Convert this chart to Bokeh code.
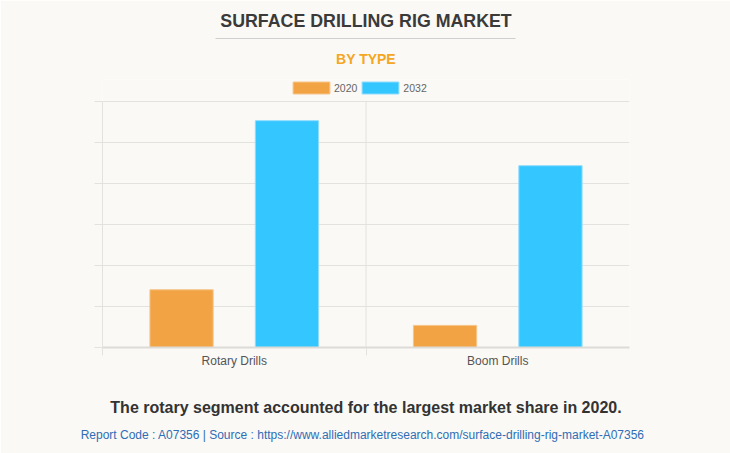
from bokeh.plotting import figure
from bokeh.models import (Range1d, FixedTicker, LinearAxis, Title, Legend, LegendItem,
                          ColumnDataSource)
from bokeh.transform import dodge
from bokeh.embed import file_html
from bokeh.resources import INLINE

# ---- data ----
categories = ["Rotary Drills", "Boom Drills"]
series_names = ["2020", "2032"]
values_2020 = [1.41, 0.54]
values_2032 = [5.54, 4.44]
y_ticks = [0, 1, 2, 3, 4, 5, 6]

title_text = "SURFACE DRILLING RIG MARKET"
subtitle_text = "BY TYPE"
footer_text = "The rotary segment accounted for the largest market share in 2020."
source_text = "Report Code : A07356  |  Source : https://www.alliedmarketresearch.com/surface-drilling-rig-market-A07356"

BG = "#faf9f5"
ORANGE = "#f2a444"
BLUE = "#33c6ff"
GRID = "#e3e2de"
FONT = "Liberation Sans"
LEGEND_HEADROOM = 0.546   # extra value-space above the top gridline that holds the legend

cat_pos = [i + 0.5 for i in range(len(categories))]
boundaries = list(range(len(categories)))
src = ColumnDataSource(dict(x=cat_pos, cat=categories, v2020=values_2020, v2032=values_2032))
ymax = y_ticks[-1]

p = figure(width=730, height=453, output_backend="svg", toolbar_location=None,
           x_range=Range1d(0, len(categories)), y_range=Range1d(0, ymax + LEGEND_HEADROOM),
           min_border_left=102, min_border_right=101, min_border_top=0, min_border_bottom=0)
p.background_fill_color = BG
p.border_fill_color = BG
p.outline_line_color = None

# vertical category separators (limited to the value range)
p.segment(x0=boundaries, x1=boundaries, y0=[0] * len(boundaries), y1=[ymax] * len(boundaries),
          line_color=GRID, line_width=1)

r1 = p.vbar(x=dodge("x", -0.2, range=p.x_range), top="v2020", width=0.24, source=src,
            fill_color=ORANGE, line_color="#f6c58a", line_width=1)
r2 = p.vbar(x=dodge("x", 0.2, range=p.x_range), top="v2032", width=0.24, source=src,
            fill_color=BLUE, line_color="#8fdcff", line_width=1)

p.ygrid.ticker = FixedTicker(ticks=y_ticks)
p.ygrid.grid_line_color = GRID
p.xgrid.visible = False

# y axis: tick marks only
p.yaxis.ticker = FixedTicker(ticks=[], minor_ticks=y_ticks)
p.yaxis.bounds = (0, ymax)
p.yaxis.major_tick_out = 0
p.yaxis.major_tick_in = 0
p.yaxis.minor_tick_out = 8
p.yaxis.minor_tick_in = 0
p.yaxis.minor_tick_line_color = GRID
p.yaxis.axis_line_color = GRID

# x axis: category labels, boundary marks, footer sentence as axis label
p.xaxis.ticker = FixedTicker(ticks=cat_pos, minor_ticks=boundaries)
p.xaxis.major_label_overrides = {c: n for c, n in zip(cat_pos, categories)}
p.xaxis.major_tick_line_color = None
p.xaxis.major_tick_out = 0
p.xaxis.major_tick_in = 0
p.xaxis.minor_tick_out = 8
p.xaxis.minor_tick_in = 0
p.xaxis.minor_tick_line_color = GRID
p.xaxis.axis_line_color = "#dcdbd7"
p.xaxis.axis_line_width = 2
p.xaxis.major_label_text_font = FONT
p.xaxis.major_label_text_font_size = "12px"
p.xaxis.major_label_text_color = "#555555"
p.xaxis.major_label_standoff = -2
p.xaxis.axis_label = footer_text
p.xaxis.axis_label_text_font = FONT
p.xaxis.axis_label_text_font_size = "16px"
p.xaxis.axis_label_text_font_style = "bold"
p.xaxis.axis_label_text_color = "#333333"
p.xaxis.axis_label_standoff = 28

p.add_layout(Title(text=source_text, align="center", vertical_align="top", standoff=19,
                   text_font=FONT, text_font_size="12px", text_font_style="normal",
                   text_color="#2f6db5"), "below")

# legend inside the frame's headroom
legend = Legend(items=[LegendItem(label=series_names[0], renderers=[r1]),
                       LegendItem(label=series_names[1], renderers=[r2])],
                location=(186, 252), orientation="horizontal",
                glyph_width=46, glyph_height=15, label_height=12, label_standoff=0,
                spacing=0, padding=0, margin=0,
                label_text_font=FONT, label_text_font_size="10.5px", label_text_color="#666666",
                background_fill_alpha=0, border_line_color=None)
p.add_layout(legend)

# above: subtitle, underline, title (nearest the frame first)
p.add_layout(Title(text=subtitle_text, align="center", vertical_align="middle", standoff=23,
                   text_font=FONT, text_font_size="14px", text_font_style="bold",
                   text_color="#f5a623"), "above")
underline = LinearAxis(ticker=FixedTicker(ticks=[]), bounds=(0.4288, 1.5674),
                       major_tick_out=0, major_tick_in=0, minor_tick_out=0, minor_tick_in=0,
                       major_label_standoff=0, axis_line_color="#cfcfcf", axis_line_width=1)
p.add_layout(underline, "above")
p.add_layout(Title(text=title_text, align="center", vertical_align="bottom", standoff=16,
                   text_font=FONT, text_font_size="17.8px", text_font_style="bold",
                   text_color="#3a3a3a"), "above")

open("out.html", "w").write(file_html(p, INLINE))
